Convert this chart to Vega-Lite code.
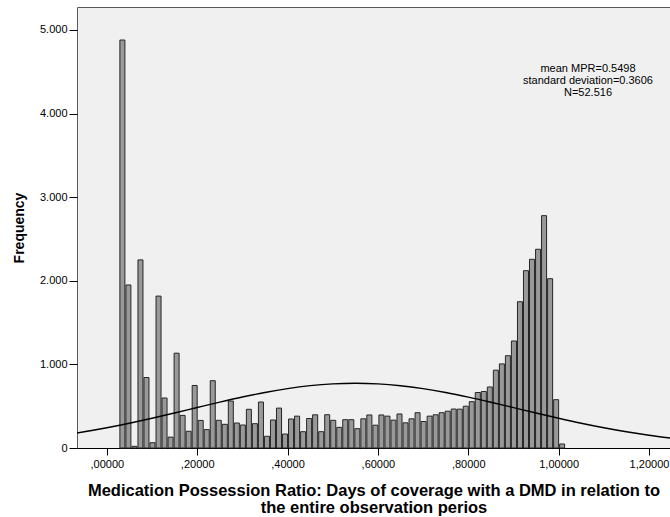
{
  "$schema": "https://vega.github.io/schema/vega-lite/v6.json",
  "autosize": "none",
  "width": 593,
  "height": 441,
  "padding": {"left": 77, "top": 7, "right": 0, "bottom": 69},
  "background": "white",
  "config": {
    "view": {"fill": "#F0F0F0", "stroke": "#5a5a5a", "strokeWidth": 1},
    "axis": {"labelFont": "Liberation Sans", "titleFont": "Liberation Sans", "labelColor": "black", "titleColor": "black", "tickColor": "black", "domainColor": "black", "grid": false}
  },
  "datasets": {
    "bins": [
      {"lo": 0.0267, "hi": 0.0400, "n": 4880},
      {"lo": 0.0400, "hi": 0.0533, "n": 1950},
      {"lo": 0.0533, "hi": 0.0667, "n": 20},
      {"lo": 0.0667, "hi": 0.0800, "n": 2250},
      {"lo": 0.0800, "hi": 0.0933, "n": 843},
      {"lo": 0.0933, "hi": 0.1067, "n": 63},
      {"lo": 0.1067, "hi": 0.1200, "n": 1817},
      {"lo": 0.1200, "hi": 0.1333, "n": 598},
      {"lo": 0.1333, "hi": 0.1467, "n": 130},
      {"lo": 0.1467, "hi": 0.1600, "n": 1134},
      {"lo": 0.1600, "hi": 0.1733, "n": 390},
      {"lo": 0.1733, "hi": 0.1867, "n": 200},
      {"lo": 0.1867, "hi": 0.2000, "n": 748},
      {"lo": 0.2000, "hi": 0.2133, "n": 330},
      {"lo": 0.2133, "hi": 0.2267, "n": 220},
      {"lo": 0.2267, "hi": 0.2400, "n": 805},
      {"lo": 0.2400, "hi": 0.2533, "n": 331},
      {"lo": 0.2533, "hi": 0.2667, "n": 283},
      {"lo": 0.2667, "hi": 0.2800, "n": 562},
      {"lo": 0.2800, "hi": 0.2933, "n": 299},
      {"lo": 0.2933, "hi": 0.3067, "n": 275},
      {"lo": 0.3067, "hi": 0.3200, "n": 463},
      {"lo": 0.3200, "hi": 0.3333, "n": 291},
      {"lo": 0.3333, "hi": 0.3467, "n": 550},
      {"lo": 0.3467, "hi": 0.3600, "n": 140},
      {"lo": 0.3600, "hi": 0.3733, "n": 335},
      {"lo": 0.3733, "hi": 0.3867, "n": 477},
      {"lo": 0.3867, "hi": 0.4000, "n": 167},
      {"lo": 0.4000, "hi": 0.4133, "n": 347},
      {"lo": 0.4133, "hi": 0.4267, "n": 381},
      {"lo": 0.4267, "hi": 0.4400, "n": 195},
      {"lo": 0.4400, "hi": 0.4533, "n": 353},
      {"lo": 0.4533, "hi": 0.4667, "n": 397},
      {"lo": 0.4667, "hi": 0.4800, "n": 195},
      {"lo": 0.4800, "hi": 0.4933, "n": 398},
      {"lo": 0.4933, "hi": 0.5067, "n": 331},
      {"lo": 0.5067, "hi": 0.5200, "n": 247},
      {"lo": 0.5200, "hi": 0.5333, "n": 339},
      {"lo": 0.5333, "hi": 0.5467, "n": 339},
      {"lo": 0.5467, "hi": 0.5600, "n": 231},
      {"lo": 0.5600, "hi": 0.5733, "n": 349},
      {"lo": 0.5733, "hi": 0.5867, "n": 395},
      {"lo": 0.5867, "hi": 0.6000, "n": 273},
      {"lo": 0.6000, "hi": 0.6133, "n": 395},
      {"lo": 0.6133, "hi": 0.6267, "n": 381},
      {"lo": 0.6267, "hi": 0.6400, "n": 333},
      {"lo": 0.6400, "hi": 0.6533, "n": 407},
      {"lo": 0.6533, "hi": 0.6667, "n": 301},
      {"lo": 0.6667, "hi": 0.6800, "n": 349},
      {"lo": 0.6800, "hi": 0.6933, "n": 422},
      {"lo": 0.6933, "hi": 0.7067, "n": 317},
      {"lo": 0.7067, "hi": 0.7200, "n": 381},
      {"lo": 0.7200, "hi": 0.7333, "n": 397},
      {"lo": 0.7333, "hi": 0.7467, "n": 422},
      {"lo": 0.7467, "hi": 0.7600, "n": 440},
      {"lo": 0.7600, "hi": 0.7733, "n": 466},
      {"lo": 0.7733, "hi": 0.7867, "n": 465},
      {"lo": 0.7867, "hi": 0.8000, "n": 500},
      {"lo": 0.8000, "hi": 0.8133, "n": 554},
      {"lo": 0.8133, "hi": 0.8267, "n": 664},
      {"lo": 0.8267, "hi": 0.8400, "n": 676},
      {"lo": 0.8400, "hi": 0.8533, "n": 730},
      {"lo": 0.8533, "hi": 0.8667, "n": 931},
      {"lo": 0.8667, "hi": 0.8800, "n": 1006},
      {"lo": 0.8800, "hi": 0.8933, "n": 1104},
      {"lo": 0.8933, "hi": 0.9067, "n": 1280},
      {"lo": 0.9067, "hi": 0.9200, "n": 1750},
      {"lo": 0.9200, "hi": 0.9333, "n": 2121},
      {"lo": 0.9333, "hi": 0.9467, "n": 2257},
      {"lo": 0.9467, "hi": 0.9600, "n": 2377},
      {"lo": 0.9600, "hi": 0.9733, "n": 2779},
      {"lo": 0.9733, "hi": 0.9867, "n": 2025},
      {"lo": 0.9867, "hi": 1.0000, "n": 578},
      {"lo": 1.0000, "hi": 1.0133, "n": 48}
    ],
    "curve": [
      {"x": -0.07, "y": 176.9}, {"x": -0.05, "y": 194.2}, {"x": 0.0, "y": 242.3},
      {"x": 0.05, "y": 296.5}, {"x": 0.1, "y": 355.8}, {"x": 0.15, "y": 419.0},
      {"x": 0.2, "y": 484.0}, {"x": 0.25, "y": 548.3}, {"x": 0.3, "y": 609.5},
      {"x": 0.35, "y": 664.5}, {"x": 0.4, "y": 710.6}, {"x": 0.45, "y": 745.6},
      {"x": 0.5, "y": 767.3}, {"x": 0.55, "y": 774.7}, {"x": 0.6, "y": 767.2},
      {"x": 0.65, "y": 745.3}, {"x": 0.7, "y": 710.3}, {"x": 0.75, "y": 664.1},
      {"x": 0.8, "y": 609.0}, {"x": 0.85, "y": 547.8}, {"x": 0.9, "y": 483.4},
      {"x": 0.95, "y": 418.5}, {"x": 1.0, "y": 355.4}, {"x": 1.05, "y": 296.0},
      {"x": 1.1, "y": 241.9}, {"x": 1.15, "y": 193.9}, {"x": 1.2, "y": 152.5},
      {"x": 1.25, "y": 117.6}
    ],
    "note": [
      {"x": 1.065, "y": 4605, "label": "mean MPR=0.5498\nstandard deviation=0.3606\nN=52.516"}
    ]
  },
  "layer": [
    {
      "data": {"name": "bins"},
      "mark": {"type": "bar", "fill": "#999999", "stroke": "#262626", "strokeWidth": 1},
      "encoding": {
        "x": {
          "field": "lo", "type": "quantitative", "bin": "binned",
          "scale": {"domain": [-0.066, 1.2465], "nice": false, "zero": false},
          "axis": {
            "values": [0, 0.2, 0.4, 0.6, 0.8, 1.0, 1.2],
            "labelExpr": "datum.value < 0.999 ? ',' + substring(format(datum.value, '.5f'), 2) : replace(format(datum.value, '.5f'), '.', ',')",
            "labelFontSize": 11, "labelPadding": 3, "tickSize": 7,
            "title": ["Medication Possession Ratio: Days of coverage with a DMD in relation to", "the entire observation perios"],
            "titleFontSize": 16.5, "titleFontWeight": "bold", "titleLineHeight": 17, "titlePadding": 13
          }
        },
        "x2": {"field": "hi"},
        "y": {
          "field": "n", "type": "quantitative",
          "scale": {"domain": [0, 5275], "nice": false},
          "axis": {
            "values": [0, 1000, 2000, 3000, 4000, 5000],
            "labelExpr": "replace(format(datum.value, ','), ',', '.')",
            "labelFontSize": 11, "labelPadding": 2, "tickSize": 8, "domain": false,
            "title": "Frequency", "titleFontSize": 14, "titleFontWeight": "bold", "titlePadding": 13
          }
        }
      }
    },
    {
      "data": {"name": "curve"},
      "mark": {"type": "line", "color": "black", "strokeWidth": 1.4, "clip": true, "interpolate": "monotone"},
      "encoding": {
        "x": {"field": "x", "type": "quantitative"},
        "y": {"field": "y", "type": "quantitative"}
      }
    },
    {
      "data": {"name": "note"},
      "mark": {"type": "text", "font": "Liberation Sans", "fontSize": 11, "align": "center", "baseline": "top", "lineBreak": "\n", "lineHeight": 12, "color": "black"},
      "encoding": {
        "x": {"field": "x", "type": "quantitative"},
        "y": {"field": "y", "type": "quantitative"},
        "text": {"field": "label"}
      }
    }
  ]
}
